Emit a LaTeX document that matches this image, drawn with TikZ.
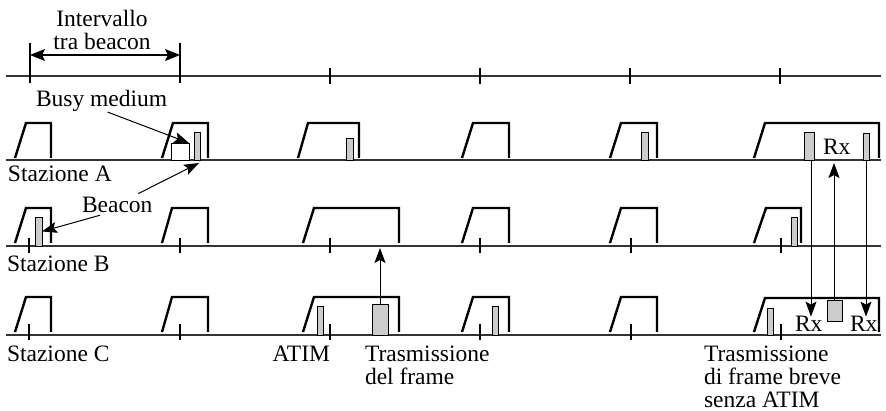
\documentclass[tikz,border=0pt]{standalone}
\usepackage{fontspec}
\setmainfont{Liberation Serif}
\usetikzlibrary{arrows.meta,calc}
\begin{document}
\begin{tikzpicture}[x=1pt,y=-1pt,
  axis/.style={line width=1.3pt,draw=black!80},
  env/.style={line width=2.4pt,line join=miter},
  bar/.style={draw,line width=0.8pt,fill=black!20,inner sep=0pt,outer sep=0pt,anchor=south west},
  tk/.style={line width=2.2pt},
  lbl/.style={inner sep=0pt,outer sep=0pt,font=\fontsize{23.5}{23}\selectfont},
  arr/.style={line width=1pt,-{Stealth[length=15pt,width=11pt,inset=3pt]}},
  darr/.style={line width=1.2pt,{Stealth[length=15pt,width=12pt,inset=3pt]}-{Stealth[length=15pt,width=12pt,inset=3pt]}},
]
\useasboundingbox (0,0) rectangle (886,411);

% time axes
\draw[axis] (6,76) -- (881,76);
\draw[axis] (6,160) -- (881,160);
\draw[axis] (6,246) -- (881,246);
\draw[axis] (6,335) -- (881,335);

% ticks on top axis
\draw[tk] (30,43) -- (30,83);
\draw[tk] (180,43) -- (180,83);
\foreach \x in {330,480,630,780} \draw[tk] (\x,68) -- (\x,84);
% ticks on B and C
\foreach \x in {29,180,330,480,631,781} {
  \draw[tk] (\x,238) -- (\x,253);
  \draw[tk] (\x,324) -- (\x,340);
}

% Station A envelopes
\draw[env] (15,158) -- (26,123) -- (51,123) -- (51,158);
\draw[env] (162,158) -- (173,123) -- (208,123) -- (208,158);
\draw[env] (298,158) -- (308,123) -- (359,123) -- (359,158);
\draw[env] (462,158) -- (473,123) -- (509,123) -- (509,158);
\draw[env] (610,158) -- (621,123) -- (657,123) -- (657,158);
\draw[env] (754,158) -- (765,123) -- (879,123) -- (879,158);

% Station B envelopes
\draw[env] (15,243) -- (26,208) -- (51,208) -- (51,243);
\draw[env] (162,243) -- (172,208) -- (208,208) -- (208,243);
\draw[env] (303,243) -- (314,208) -- (399,208) -- (399,243);
\draw[env] (462,243) -- (473,208) -- (509,208) -- (509,243);
\draw[env] (610,243) -- (621,208) -- (657,208) -- (657,243);
\draw[env] (754,243) -- (766,208) -- (801,208) -- (801,243);

% Station C envelopes
\draw[env] (15,332) -- (26,297) -- (51,297) -- (51,332);
\draw[env] (162,332) -- (172,297) -- (208,297) -- (208,332);
\draw[env] (303,332) -- (314,297) -- (399,297) -- (399,332);
\draw[env] (462,332) -- (473,297) -- (509,297) -- (509,332);
\draw[env] (610,332) -- (621,297) -- (657,297) -- (657,332);
\draw[env] (754,332) -- (765,298) -- (879,298) -- (879,332);

% Station A frames
\node[bar,fill=white,minimum width=18pt,minimum height=17pt] (abusy) at (171,160) {};
\node[bar,minimum width=6pt,minimum height=28pt] (a2b) at (194,160) {};
\node[bar,minimum width=7pt,minimum height=22pt] (a3b) at (346,160) {};
\node[bar,minimum width=7pt,minimum height=28pt] (a5b) at (641,160) {};
\node[bar,minimum width=10pt,minimum height=28pt] (a6big) at (804,160) {};
\node[bar,minimum width=6pt,minimum height=27pt] (a6small) at (863,160) {};

% Station B frames
\node[bar,minimum width=7pt,minimum height=29pt] (b1b) at (35,246) {};
\node[bar,minimum width=6pt,minimum height=29pt] (b6b) at (791,246) {};

% Station C frames
\node[bar,minimum width=6pt,minimum height=29pt] (c3atim) at (317,335) {};
\node[bar,minimum width=16pt,minimum height=31pt] (c3data) at (372,335) {};
\node[bar,minimum width=6pt,minimum height=29pt] (c4b) at (492,335) {};
\node[bar,minimum width=6pt,minimum height=27pt] (c6b) at (767,335) {};
\node[bar,minimum width=15pt,minimum height=21pt] (cbox) at (827,321) {};

% labels
\node[lbl,align=center,anchor=north] (interval) at (102,10) {Intervallo\\tra beacon};
\node[lbl,anchor=base west] (busy) at (36,107) {Busy medium};
\node[lbl,anchor=base west] (sa) at (8,182) {Stazione A};
\node[lbl,anchor=base west] (beacon) at (82,213) {Beacon};
\node[lbl,anchor=base west] (sb) at (7,272) {Stazione B};
\node[lbl,anchor=base west] (sc) at (7,362) {Stazione C};
\node[lbl,anchor=base east] (atim) at (330,362) {ATIM};
\node[lbl,align=left,anchor=north west] (tx1) at (365,345.5) {Trasmissione\\del frame};
\node[lbl,align=left,anchor=north west] (tx2) at (704,345.5) {Trasmissione\\di frame breve\\senza ATIM};
\node[lbl,anchor=base west] (rxa) at (823,155) {Rx};
\node[lbl,anchor=base west] (rxc1) at (795,332) {Rx};
\node[lbl,anchor=base west] (rxc2) at (850,332) {Rx};

% connectors
\coordinate (iv1) at (30,55);
\coordinate (iv2) at (180,55);
\draw[darr] (iv1) -- (iv2);
\draw[arr] ($(busy.south)+(6,0)$) -- (abusy.north east);
\draw[arr] ($(beacon.north)+(21,-4)$) -- ($(a2b.south)+(2,3)$);
\draw[arr] ($(beacon.south west)+(18,2)$) -- (b1b.east);
\coordinate (bline) at (380,248);
\draw[arr] (c3data.north -| bline) -- (bline);
\draw[arr] ($(a6big.south)+(2,0)$) -- ($(a6big.south |- rxc1.north)+(2,0)$);
\coordinate (uptip) at (834,163);
\draw[arr] (cbox.north -| uptip) -- (uptip);
\draw[arr] ($(a6small.south)+(0,0)$) -- (a6small.south |- rxc2.north);
\end{tikzpicture}
\end{document}
